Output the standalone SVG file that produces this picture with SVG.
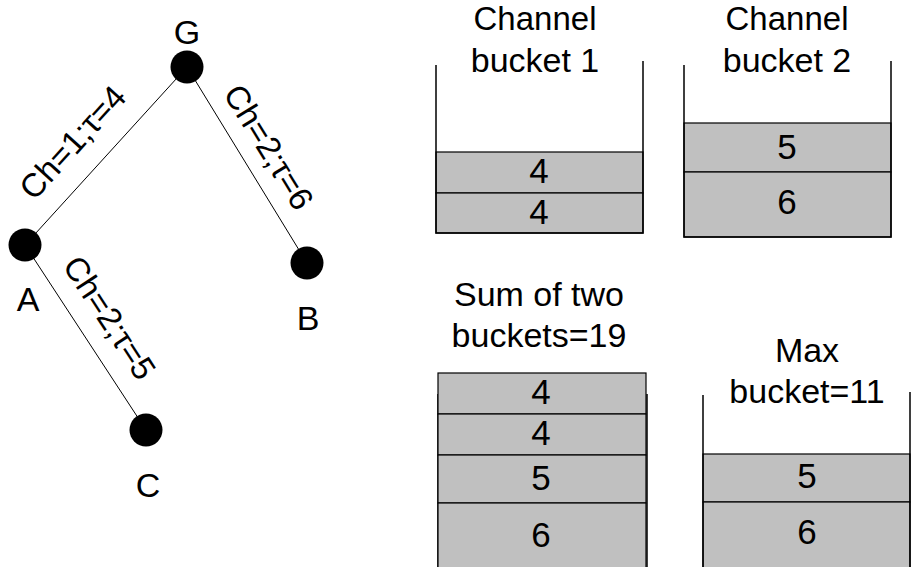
<svg xmlns="http://www.w3.org/2000/svg" width="918" height="567" viewBox="0 0 918 567">
<style>
text{font-family:"Liberation Sans",Arial,sans-serif;font-size:34px;fill:#000;text-anchor:middle}
text.num{font-size:35px}
text.el{font-size:33px}
text.top{font-size:33px}
.edge{stroke:#000;stroke-width:1;fill:none}
.node{fill:#000}
.bkt{stroke:#000;stroke-width:1.5;fill:none}
.blk{fill:#C0C0C0;stroke:#000;stroke-width:1.2}
</style>
<rect width="918" height="567" fill="#fff"/>
<g id="connectors">
<line class="edge" x1="187" y1="67" x2="25" y2="245"/>
<line class="edge" x1="187" y1="67" x2="307" y2="263"/>
<line class="edge" x1="25" y1="245" x2="146" y2="430"/>
<text class="el" transform="translate(81,150) rotate(-47.7)">Ch=1;τ=4</text>
<text class="el" transform="translate(259,153) rotate(58.5)">Ch=2;τ=6</text>
<text class="el" transform="translate(100,324) rotate(56.8)">Ch=2;τ=5</text>
</g>
<g id="node-G"><circle class="node" cx="187" cy="67" r="16.5"/><text x="187" y="44">G</text></g>
<g id="node-A"><circle class="node" cx="25" cy="245" r="16.5"/><text x="28" y="311">A</text></g>
<g id="node-B"><circle class="node" cx="307" cy="263" r="16.5"/><text x="308" y="330">B</text></g>
<g id="node-C"><circle class="node" cx="146" cy="430" r="16.5"/><text x="148" y="497">C</text></g>
<g id="bucket1">
<text class="top" x="535" y="30">Channel</text>
<text x="535" y="72">bucket 1</text>
<rect class="blk" x="436" y="152" width="207" height="41"/>
<rect class="blk" x="436" y="193" width="207" height="40"/>
<path class="bkt" d="M436 65V233H643V61"/>
<text class="num" x="539" y="183">4</text>
<text class="num" x="539" y="224">4</text>
</g>
<g id="bucket2">
<text class="top" x="787" y="30">Channel</text>
<text x="787" y="72">bucket 2</text>
<rect class="blk" x="684" y="123" width="207" height="49"/>
<rect class="blk" x="684" y="172" width="207" height="65"/>
<path class="bkt" d="M684 65V237H891V61"/>
<text class="num" x="787" y="159">5</text>
<text class="num" x="787" y="214">6</text>
</g>
<g id="sum">
<text x="539" y="306">Sum of two</text>
<text x="539" y="347">buckets=19</text>
<path class="bkt" d="M438 394V570M647 394V570"/>
<rect class="blk" x="438" y="373" width="208" height="41"/>
<rect class="blk" x="438" y="414" width="208" height="41"/>
<rect class="blk" x="438" y="455" width="208" height="48"/>
<rect class="blk" x="438" y="503" width="208" height="70"/>
<text class="num" x="541" y="404">4</text>
<text class="num" x="541" y="445">4</text>
<text class="num" x="541" y="490">5</text>
<text class="num" x="541" y="547">6</text>
</g>
<g id="max">
<text x="807" y="362">Max</text>
<text x="807" y="403">bucket=11</text>
<rect class="blk" x="703" y="454" width="207" height="48"/>
<rect class="blk" x="703" y="502" width="207" height="70"/>
<path class="bkt" d="M703 395V570M910 392V570"/>
<text class="num" x="807" y="488">5</text>
<text class="num" x="807" y="544">6</text>
</g>
</svg>
